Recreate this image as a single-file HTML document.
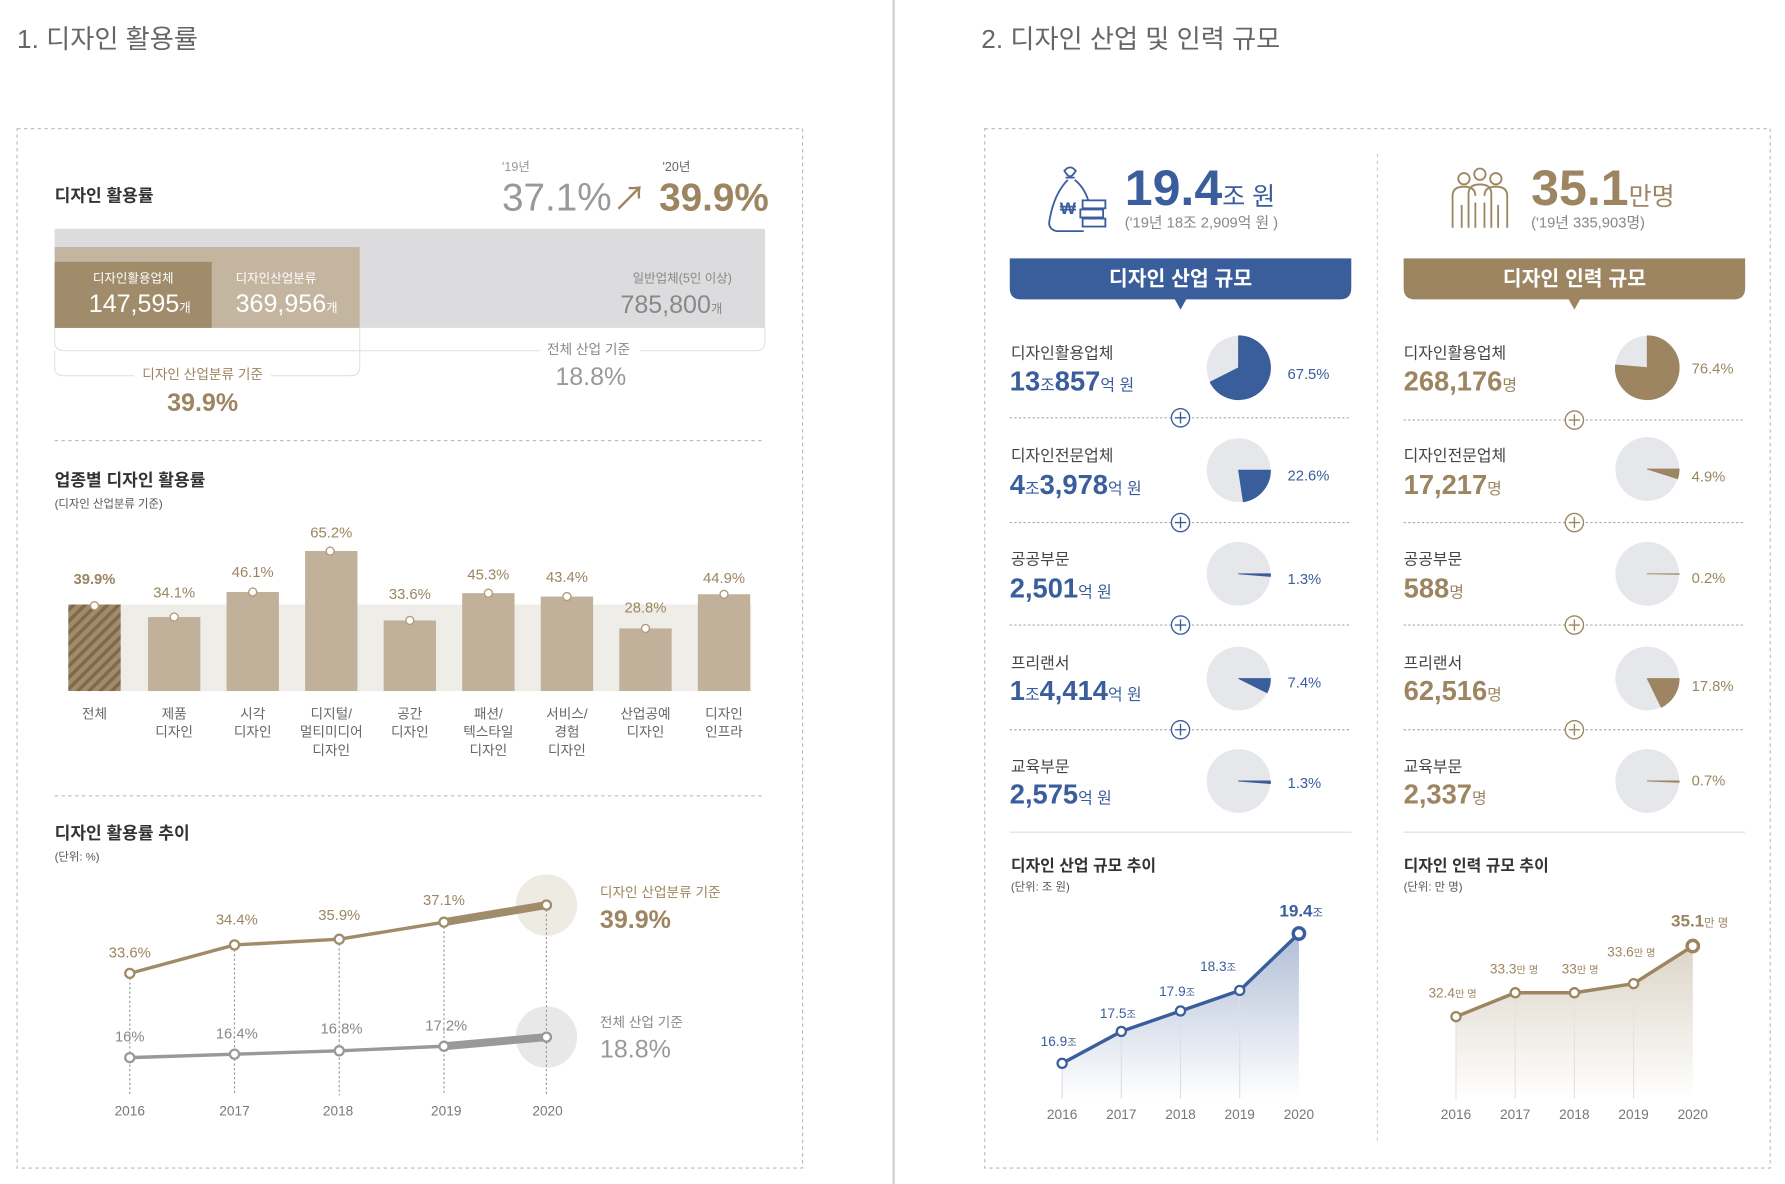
<!DOCTYPE html>
<html><head><meta charset="utf-8"><style>
html,body{margin:0;padding:0;background:#fff;}
svg{display:block;}
text{font-family:"Liberation Sans","Noto Sans CJK KR",sans-serif;}
</style></head><body>
<svg width="1785" height="1184" viewBox="0 0 1568 1040" preserveAspectRatio="none" xmlns="http://www.w3.org/2000/svg">
<defs>
<pattern id="hatch" width="7" height="7" patternUnits="userSpaceOnUse" patternTransform="rotate(45)">
<rect width="7" height="7" fill="#a08c6a"/><rect width="3" height="7" fill="#7e6a4a"/></pattern>
<linearGradient id="gb" x1="0" y1="0" x2="0" y2="1"><stop offset="0" stop-color="#3a5d9c" stop-opacity="0.4"/><stop offset="1" stop-color="#3a5d9c" stop-opacity="0"/></linearGradient>
<linearGradient id="gt" x1="0" y1="0" x2="0" y2="1"><stop offset="0" stop-color="#9c8560" stop-opacity="0.35"/><stop offset="1" stop-color="#9c8560" stop-opacity="0"/></linearGradient>
</defs>
<!-- titles -->
<text x="15" y="42" font-size="23" fill="#666">1. 디자인 활용률</text>
<text x="862" y="42" font-size="23" fill="#666">2. 디자인 산업 및 인력 규모</text>
<line x1="785" y1="0" x2="785" y2="1040" stroke="#d0d0d0" stroke-width="2"/>
<rect x="15" y="113" width="690" height="913" fill="none" stroke="#bbb" stroke-dasharray="3,3"/>
<rect x="865" y="113" width="690" height="913" fill="none" stroke="#bbb" stroke-dasharray="3,3"/>

<!-- LEFT -->
<text x="48" y="177" font-size="15" font-weight="bold" fill="#333">디자인 활용률</text>
<text x="441" y="150" font-size="11" fill="#999">'19년</text>
<text x="441" y="185" font-size="34" fill="#999">37.1%</text>
<text x="538" y="185" font-size="30" fill="#9c8560">↗</text>
<text x="582" y="150" font-size="11" fill="#666">'20년</text>
<text x="579" y="185" font-size="34" font-weight="bold" fill="#9c8560">39.9%</text>

<rect x="48" y="201" width="624" height="87" fill="#dcdcde"/>
<rect x="48" y="217" width="268" height="71" fill="#c4b5a1"/>
<rect x="48" y="230" width="138" height="58" fill="#a08c6a"/>
<path d="M48,288 V300 Q48,308 56,308 H474 M562,308 H664 Q672,308 672,300 V288" fill="none" stroke="#e2e2e2"/>
<path d="M48,308 V322 Q48,330 56,330 H118 M238,330 H308 Q316,330 316,322 V288" fill="none" stroke="#e2e2e2"/>
<text x="117" y="248" font-size="11" fill="#fff" text-anchor="middle">디자인활용업체</text>
<text x="78" y="274" font-size="22" fill="#fff">147,595<tspan font-size="11">개</tspan></text>
<text x="207" y="248" font-size="11" fill="#fff">디자인산업분류</text>
<text x="207" y="274" font-size="22" fill="#fff">369,956<tspan font-size="11">개</tspan></text>
<text x="643" y="248" font-size="11" fill="#888" text-anchor="end">일반업체(5인 이상)</text>
<text x="545" y="275" font-size="22" fill="#888">785,800<tspan font-size="11">개</tspan></text>
<text x="517" y="311" font-size="12" fill="#888" text-anchor="middle">전체 산업 기준</text>
<text x="519" y="338" font-size="22" fill="#999" text-anchor="middle">18.8%</text>
<text x="178" y="333" font-size="12" fill="#9c8560" text-anchor="middle">디자인 산업분류 기준</text>
<text x="178" y="361" font-size="22" font-weight="bold" fill="#9c8560" text-anchor="middle">39.9%</text>
<line x1="48" y1="387" x2="672" y2="387" stroke="#bbb" stroke-dasharray="3,3"/>

<text x="48" y="427" font-size="15" font-weight="bold" fill="#333">업종별 디자인 활용률</text>
<text x="48" y="446" font-size="10" fill="#555">(디자인 산업분류 기준)</text>
<rect x="60" y="531" width="600" height="76" fill="#efede8"/>
<g fill="#c1b19b">
<rect x="60" y="531" width="46" height="76" fill="url(#hatch)"/>
<rect x="130" y="542" width="46" height="65"/>
<rect x="199" y="520" width="46" height="87"/>
<rect x="268" y="484" width="46" height="123"/>
<rect x="337" y="545" width="46" height="62"/>
<rect x="406" y="521" width="46" height="86"/>
<rect x="475" y="524" width="46" height="83"/>
<rect x="544" y="552" width="46" height="55"/>
<rect x="613" y="522" width="46" height="85"/>
</g>
<g fill="#fff" stroke="#b09c7c" stroke-width="1.2">
<circle cx="83" cy="532" r="3.5"/><circle cx="153" cy="542" r="3.5"/><circle cx="222" cy="520" r="3.5"/><circle cx="290" cy="484" r="3.5"/><circle cx="360" cy="545" r="3.5"/><circle cx="429" cy="521" r="3.5"/><circle cx="498" cy="524" r="3.5"/><circle cx="567" cy="552" r="3.5"/><circle cx="636" cy="522" r="3.5"/>
</g>
<g font-size="13" fill="#9c8560" text-anchor="middle">
<text x="83" y="513" font-weight="bold">39.9%</text><text x="153" y="525">34.1%</text><text x="222" y="507">46.1%</text><text x="291" y="472">65.2%</text><text x="360" y="526">33.6%</text><text x="429" y="509">45.3%</text><text x="498" y="511">43.4%</text><text x="567" y="538">28.8%</text><text x="636" y="512">44.9%</text>
</g>
<g font-size="12" fill="#666" text-anchor="middle">
<text x="83" y="631">전체</text>
<text x="153" y="631">제품</text><text x="153" y="647">디자인</text>
<text x="222" y="631">시각</text><text x="222" y="647">디자인</text>
<text x="291" y="631">디지털/</text><text x="291" y="647">멀티미디어</text><text x="291" y="663">디자인</text>
<text x="360" y="631">공간</text><text x="360" y="647">디자인</text>
<text x="429" y="631">패션/</text><text x="429" y="647">텍스타일</text><text x="429" y="663">디자인</text>
<text x="498" y="631">서비스/</text><text x="498" y="647">경험</text><text x="498" y="663">디자인</text>
<text x="567" y="631">산업공예</text><text x="567" y="647">디자인</text>
<text x="636" y="631">디자인</text><text x="636" y="647">인프라</text>
</g>
<line x1="48" y1="699" x2="672" y2="699" stroke="#bbb" stroke-dasharray="3,3"/>

<text x="48" y="737" font-size="15" font-weight="bold" fill="#333">디자인 활용률 추이</text>
<text x="48" y="756" font-size="10" fill="#555">(단위: %)</text>
<circle cx="480" cy="795" r="27" fill="#eeebe3"/>
<circle cx="480" cy="911" r="27" fill="#e8e8e8"/>
<g stroke="#999" stroke-dasharray="2,2"><line x1="114" y1="855" x2="114" y2="962"/><line x1="206" y1="830" x2="206" y2="962"/><line x1="298" y1="825" x2="298" y2="962"/><line x1="390" y1="810" x2="390" y2="962"/><line x1="480" y1="795" x2="480" y2="962"/></g>
<polyline points="114,855 206,830 298,825 390,810" fill="none" stroke="#a08c6a" stroke-width="3"/>
<line x1="390" y1="810" x2="480" y2="795" stroke="#a08c6a" stroke-width="7"/>
<polyline points="114,929 206,926 298,923 390,919" fill="none" stroke="#999" stroke-width="3"/>
<line x1="390" y1="919" x2="480" y2="911" stroke="#999" stroke-width="7"/>
<g fill="#fff" stroke="#a08c6a" stroke-width="2"><circle cx="114" cy="855" r="4"/><circle cx="206" cy="830" r="4"/><circle cx="298" cy="825" r="4"/><circle cx="390" cy="810" r="4"/><circle cx="480" cy="795" r="4"/></g>
<g fill="#fff" stroke="#999" stroke-width="2"><circle cx="114" cy="929" r="4"/><circle cx="206" cy="926" r="4"/><circle cx="298" cy="923" r="4"/><circle cx="390" cy="919" r="4"/><circle cx="480" cy="911" r="4"/></g>
<g font-size="13" fill="#9c8560" text-anchor="middle"><text x="114" y="841">33.6%</text><text x="208" y="812">34.4%</text><text x="298" y="808">35.9%</text><text x="390" y="795">37.1%</text></g>
<g font-size="13" fill="#888" text-anchor="middle"><text x="114" y="915">16%</text><text x="208" y="912">16.4%</text><text x="300" y="908">16.8%</text><text x="392" y="905">17.2%</text></g>
<g font-size="12" fill="#777" text-anchor="middle"><text x="114" y="980">2016</text><text x="206" y="980">2017</text><text x="297" y="980">2018</text><text x="392" y="980">2019</text><text x="481" y="980">2020</text></g>
<text x="527" y="788" font-size="12" fill="#9c8560">디자인 산업분류 기준</text>
<text x="527" y="815" font-size="22" font-weight="bold" fill="#9c8560">39.9%</text>
<text x="527" y="902" font-size="12" fill="#888">전체 산업 기준</text>
<text x="527" y="929" font-size="22" fill="#999">18.8%</text>

<!-- RIGHT -->
<line x1="1210" y1="135" x2="1210" y2="1005" stroke="#ccc" stroke-dasharray="3,3"/>
<!-- bag icon -->
<g fill="none" stroke="#3a5d9c" stroke-width="1.6">
<path d="M935,150 q5,-6 10,0 q-3,5 -5,5 q-2,0 -5,-5 z"/>
<path d="M936,156 h8 M938,158 q-12,12 -16,35 q-2,8 6,10 h24"/>
<path d="M944,158 q8,6 12,18"/>
<rect x="951" y="176" width="20" height="7"/><rect x="949" y="184" width="20" height="7"/><rect x="951" y="192" width="20" height="7"/>
</g>
<text x="931" y="188" font-size="15" font-weight="bold" fill="#3a5d9c">₩</text>
<text x="988" y="180" font-size="44" font-weight="bold" fill="#3a5d9c">19.4<tspan font-size="22" font-weight="normal">조 원</tspan></text>
<text x="988" y="200" font-size="13" fill="#888">('19년  18조 2,909억 원 )</text>
<!-- people icon -->
<g fill="none" stroke="#9c8560" stroke-width="1.6">
<circle cx="1286" cy="157" r="5"/><circle cx="1300" cy="153" r="5"/><circle cx="1314" cy="157" r="5"/>
<path d="M1276,200 v-28 q0,-8 10,-8 q10,0 10,8 M1304,172 q0,-8 10,-8 q10,0 10,8 v28"/>
<path d="M1290,200 v-30 q0,-8 10,-8 q10,0 10,8 v30 M1296,200 v-22 M1304,200 v-22 M1284,200 v-20 M1316,200 v-20"/>
</g>
<text x="1345" y="180" font-size="44" font-weight="bold" fill="#9c8560">35.1<tspan font-size="22" font-weight="normal">만명</tspan></text>
<text x="1345" y="200" font-size="13" fill="#888">('19년 335,903명)</text>

<path d="M887,227 H1187 V253 Q1187,263 1177,263 H1042 L1037,272 L1032,263 H897 Q887,263 887,253 Z" fill="#3a5d9c"/>
<text x="1037" y="251" font-size="18" font-weight="bold" fill="#fff" text-anchor="middle">디자인 산업 규모</text>
<path d="M1233,227 H1533 V253 Q1533,263 1523,263 H1388 L1383,272 L1378,263 H1243 Q1233,263 1233,253 Z" fill="#9c8560"/>
<text x="1383" y="251" font-size="18" font-weight="bold" fill="#fff" text-anchor="middle">디자인 인력 규모</text>

<!-- separators -->
<g stroke="#aaa" stroke-dasharray="2,2">
<line x1="887" y1="367" x2="1187" y2="367"/><line x1="887" y1="459" x2="1187" y2="459"/><line x1="887" y1="549" x2="1187" y2="549"/><line x1="887" y1="641" x2="1187" y2="641"/>
<line x1="1233" y1="369" x2="1533" y2="369"/><line x1="1233" y1="459" x2="1533" y2="459"/><line x1="1233" y1="549" x2="1533" y2="549"/><line x1="1233" y1="641" x2="1533" y2="641"/>
</g>
<line x1="887" y1="731" x2="1187" y2="731" stroke="#ddd"/>
<line x1="1233" y1="731" x2="1533" y2="731" stroke="#ddd"/>
<g fill="#fff" stroke="#3a5d9c" stroke-width="1.2">
<circle cx="1037" cy="367" r="8"/><circle cx="1037" cy="459" r="8"/><circle cx="1037" cy="549" r="8"/><circle cx="1037" cy="641" r="8"/></g>
<g stroke="#3a5d9c" stroke-width="1.2"><path d="M1032,367h10M1037,362v10M1032,459h10M1037,454v10M1032,549h10M1037,544v10M1032,641h10M1037,636v10"/></g>
<g fill="#fff" stroke="#9c8560" stroke-width="1.2">
<circle cx="1383" cy="369" r="8"/><circle cx="1383" cy="459" r="8"/><circle cx="1383" cy="549" r="8"/><circle cx="1383" cy="641" r="8"/></g>
<g stroke="#9c8560" stroke-width="1.2"><path d="M1378,369h10M1383,364v10M1378,459h10M1383,454v10M1378,549h10M1383,544v10M1378,641h10M1383,636v10"/></g>

<!-- row texts -->
<g font-size="14" fill="#444">
<text x="888" y="315">디자인활용업체</text><text x="888" y="405">디자인전문업체</text><text x="888" y="496">공공부문</text><text x="888" y="587">프리랜서</text><text x="888" y="678">교육부문</text>
<text x="1233" y="315">디자인활용업체</text><text x="1233" y="405">디자인전문업체</text><text x="1233" y="496">공공부문</text><text x="1233" y="587">프리랜서</text><text x="1233" y="678">교육부문</text>
</g>
<g font-size="24" font-weight="bold" fill="#3a5d9c">
<text x="887" y="343">13<tspan font-size="14" font-weight="normal">조</tspan>857<tspan font-size="14" font-weight="normal">억 원</tspan></text>
<text x="887" y="434">4<tspan font-size="14" font-weight="normal">조</tspan>3,978<tspan font-size="14" font-weight="normal">억 원</tspan></text>
<text x="887" y="525">2,501<tspan font-size="14" font-weight="normal">억 원</tspan></text>
<text x="887" y="615">1<tspan font-size="14" font-weight="normal">조</tspan>4,414<tspan font-size="14" font-weight="normal">억 원</tspan></text>
<text x="887" y="706">2,575<tspan font-size="14" font-weight="normal">억 원</tspan></text>
</g>
<g font-size="24" font-weight="bold" fill="#9c8560">
<text x="1233" y="343">268,176<tspan font-size="14" font-weight="normal">명</tspan></text>
<text x="1233" y="434">17,217<tspan font-size="14" font-weight="normal">명</tspan></text>
<text x="1233" y="525">588<tspan font-size="14" font-weight="normal">명</tspan></text>
<text x="1233" y="615">62,516<tspan font-size="14" font-weight="normal">명</tspan></text>
<text x="1233" y="706">2,337<tspan font-size="14" font-weight="normal">명</tspan></text>
</g>
<!-- pies -->
<g fill="#e6e7ea"><circle cx="1088" cy="323" r="28"/><circle cx="1088" cy="413" r="28"/><circle cx="1088" cy="504" r="28"/><circle cx="1088" cy="596" r="28"/><circle cx="1088" cy="686" r="28"/>
<circle cx="1447" cy="323" r="28"/><circle cx="1447" cy="412" r="28"/><circle cx="1447" cy="504" r="28"/><circle cx="1447" cy="596" r="28"/><circle cx="1447" cy="686" r="28"/></g>
<g fill="#3a5d9c" stroke="#3a5d9c" stroke-width="0.8" stroke-linejoin="round">
<path d="M1088,323 L1088,295 A28,28 0 1 1 1063.05,335.7 Z"/>
<path d="M1088,413 L1116,413 A28,28 0 0 1 1092.2,440.7 Z"/>
<path d="M1088,504 L1116,504 A28,28 0 0 1 1115.9,506.3 Z"/>
<path d="M1088,596 L1116,596 A28,28 0 0 1 1113,608.5 Z"/>
<path d="M1088,686 L1116,686 A28,28 0 0 1 1115.9,688.3 Z"/>
</g>
<g fill="#9c8560" stroke="#9c8560" stroke-width="0.8" stroke-linejoin="round">
<path d="M1447,323 L1447,295 A28,28 0 1 1 1419.1,320.6 Z"/>
<path d="M1447,412 L1475,412 A28,28 0 0 1 1473.7,420.5 Z"/>
<path d="M1447,504 L1475,504 L1475,504.4 Z"/>
<path d="M1447,596 L1475,596 A28,28 0 0 1 1459.3,621.2 Z"/>
<path d="M1447,686 L1475,686 A28,28 0 0 1 1475,687.2 Z"/>
</g>
<g font-size="13" fill="#3a5d9c"><text x="1131" y="333">67.5%</text><text x="1131" y="422">22.6%</text><text x="1131" y="513">1.3%</text><text x="1131" y="604">7.4%</text><text x="1131" y="692">1.3%</text></g>
<g font-size="13" fill="#9c8560"><text x="1486" y="328">76.4%</text><text x="1486" y="423">4.9%</text><text x="1486" y="512">0.2%</text><text x="1486" y="607">17.8%</text><text x="1486" y="690">0.7%</text></g>

<!-- trend charts -->
<text x="888" y="765" font-size="14" font-weight="bold" fill="#333">디자인 산업 규모 추이</text>
<text x="888" y="782" font-size="10" fill="#555">(단위: 조 원)</text>
<text x="1233" y="765" font-size="14" font-weight="bold" fill="#333">디자인 인력 규모 추이</text>
<text x="1233" y="782" font-size="10" fill="#555">(단위: 만 명)</text>

<path d="M933,934 L985,906 L1037,888 L1089,870 L1141,820 V965 H933 Z" fill="url(#gb)"/>
<g stroke="#dde" ><line x1="933" y1="934" x2="933" y2="965"/><line x1="985" y1="906" x2="985" y2="965"/><line x1="1037" y1="888" x2="1037" y2="965"/><line x1="1089" y1="870" x2="1089" y2="965"/></g>
<polyline points="933,934 985,906 1037,888 1089,870 1141,820" fill="none" stroke="#3a5d9c" stroke-width="3"/>
<g fill="#fff" stroke="#3a5d9c" stroke-width="2"><circle cx="933" cy="934" r="4"/><circle cx="985" cy="906" r="4"/><circle cx="1037" cy="888" r="4"/><circle cx="1089" cy="870" r="4"/><circle cx="1141" cy="820" r="5" stroke-width="3"/></g>
<g font-size="12" fill="#3a5d9c" text-anchor="middle"><text x="930" y="919">16.9<tspan font-size="9">조</tspan></text><text x="982" y="894">17.5<tspan font-size="9">조</tspan></text><text x="1034" y="875">17.9<tspan font-size="9">조</tspan></text><text x="1070" y="853">18.3<tspan font-size="9">조</tspan></text><text x="1143" y="805" font-size="15" font-weight="bold">19.4<tspan font-size="10" font-weight="normal">조</tspan></text></g>
<g font-size="12" fill="#777" text-anchor="middle"><text x="933" y="983">2016</text><text x="985" y="983">2017</text><text x="1037" y="983">2018</text><text x="1089" y="983">2019</text><text x="1141" y="983">2020</text></g>

<path d="M1279,893 L1331,872 L1383,872 L1435,864 L1487,831 V965 H1279 Z" fill="url(#gt)"/>
<g stroke="#e8e2d8"><line x1="1279" y1="893" x2="1279" y2="965"/><line x1="1331" y1="872" x2="1331" y2="965"/><line x1="1383" y1="872" x2="1383" y2="965"/><line x1="1435" y1="864" x2="1435" y2="965"/></g>
<polyline points="1279,893 1331,872 1383,872 1435,864 1487,831" fill="none" stroke="#9c8560" stroke-width="3"/>
<g fill="#fff" stroke="#9c8560" stroke-width="2"><circle cx="1279" cy="893" r="4"/><circle cx="1331" cy="872" r="4"/><circle cx="1383" cy="872" r="4"/><circle cx="1435" cy="864" r="4"/><circle cx="1487" cy="831" r="5" stroke-width="3"/></g>
<g font-size="12" fill="#9c8560" text-anchor="middle"><text x="1276" y="876">32.4<tspan font-size="9">만 명</tspan></text><text x="1330" y="855">33.3<tspan font-size="9">만 명</tspan></text><text x="1388" y="855">33<tspan font-size="9">만 명</tspan></text><text x="1433" y="840">33.6<tspan font-size="9">만 명</tspan></text><text x="1493" y="814" font-size="15" font-weight="bold">35.1<tspan font-size="10" font-weight="normal">만 명</tspan></text></g>
<g font-size="12" fill="#777" text-anchor="middle"><text x="1279" y="983">2016</text><text x="1331" y="983">2017</text><text x="1383" y="983">2018</text><text x="1435" y="983">2019</text><text x="1487" y="983">2020</text></g>
</svg>
</body></html>
